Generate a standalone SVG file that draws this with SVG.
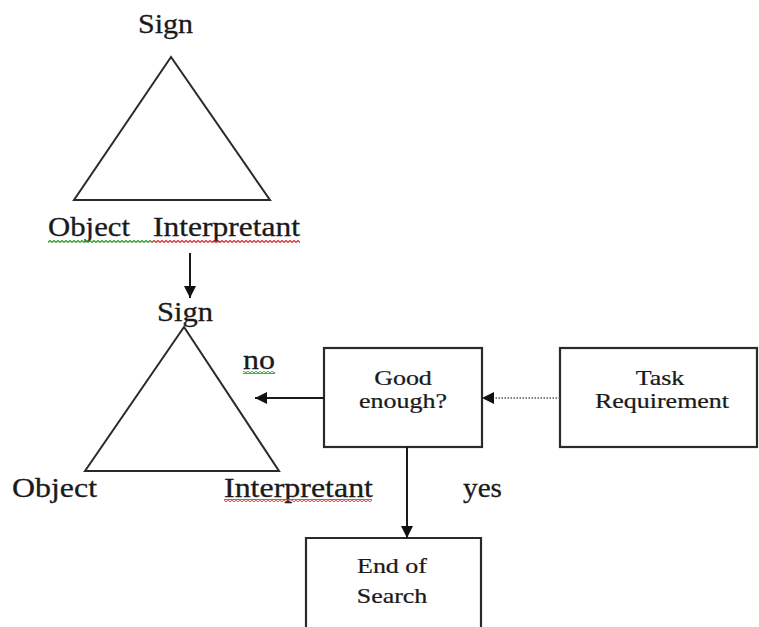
<svg xmlns="http://www.w3.org/2000/svg" width="759" height="627" viewBox="0 0 759 627">
<defs>
<style>
.shape{fill:none;stroke:#2a2a2a;stroke-width:2}
.box{fill:#ffffff;stroke:#2a2a2a;stroke-width:2.2}
.lbl{font-family:"Liberation Serif","Times New Roman",serif;font-size:28px;fill:#1a1a1a;stroke:#1a1a1a;stroke-width:0.3}
.bt{font-family:"Liberation Serif","Times New Roman",serif;font-size:22px;fill:#1a1a1a;stroke:#1a1a1a;stroke-width:0.25;text-anchor:middle}
.conn{fill:none;stroke:#1a1a1a;stroke-width:2}
.dot{fill:none;stroke:#555;stroke-width:1.3;stroke-dasharray:1.5 1.5}
</style>
<marker id="ah" markerWidth="12" markerHeight="12" viewBox="0 0 12 12" refX="12" refY="6" orient="auto" markerUnits="userSpaceOnUse">
<path d="M0,0 L12,6 L0,12 Z" fill="#111"/>
</marker>
<pattern id="wg" x="0" y="0" width="4" height="3" patternUnits="userSpaceOnUse"><polyline points="0,2.5 2,0.5 4,2.5" fill="none" stroke="#2e9e2e" stroke-width="1.3"/></pattern>
<pattern id="wr" x="0" y="0" width="4" height="3" patternUnits="userSpaceOnUse"><polyline points="0,2.5 2,0.5 4,2.5" fill="none" stroke="#d03a3a" stroke-width="1.3"/></pattern>
</defs>
<rect width="759" height="627" fill="#ffffff"/>

<g id="triangle1">
<polygon class="shape" points="171,57 74,200 270,200"/>
<text class="lbl" x="138" y="33" textLength="55" lengthAdjust="spacingAndGlyphs">Sign</text>
<text class="lbl" x="48" y="236" textLength="82" lengthAdjust="spacingAndGlyphs">Object</text>
<text class="lbl" x="153" y="236" textLength="147" lengthAdjust="spacingAndGlyphs">Interpretant</text>
<rect x="48" y="240" width="104" height="3" fill="url(#wg)"/>
<rect x="152" y="240" width="148" height="3" fill="url(#wr)"/>
</g>

<g id="triangle2">
<polygon class="shape" points="184,327 85,471 279,471"/>
<text class="lbl" x="157" y="321" textLength="56" lengthAdjust="spacingAndGlyphs">Sign</text>
<text class="lbl" x="12" y="497" textLength="85" lengthAdjust="spacingAndGlyphs">Object</text>
<text class="lbl" x="224" y="497" textLength="149" lengthAdjust="spacingAndGlyphs">Interpretant</text>
<rect x="224" y="499" width="148" height="3" fill="url(#wr)"/>
</g>

<g id="label-no">
<text class="lbl" x="243" y="369" textLength="32" lengthAdjust="spacingAndGlyphs">no</text>
<rect x="243" y="371" width="32" height="3" fill="url(#wg)"/>
</g>

<g id="label-yes">
<text class="lbl" x="463" y="497" textLength="39" lengthAdjust="spacingAndGlyphs">yes</text>
</g>

<g id="good-enough">
<rect class="box" x="324" y="348" width="158" height="99"/>
<text class="bt" transform="translate(403,385) scale(1.18,1)">Good</text>
<text class="bt" transform="translate(403,408) scale(1.18,1)">enough?</text>
</g>

<g id="task-requirement">
<rect class="box" x="560" y="348" width="197" height="99"/>
<text class="bt" transform="translate(660,385) scale(1.18,1)">Task</text>
<text class="bt" transform="translate(662,408) scale(1.18,1)">Requirement</text>
</g>

<g id="end-of-search">
<path class="box" d="M306,640 L306,538 L481,538 L481,640"/>
<text class="bt" transform="translate(392,573) scale(1.18,1)">End of</text>
<text class="bt" transform="translate(392,603) scale(1.18,1)">Search</text>
</g>

<g id="connectors">
<line class="conn" x1="190" y1="253" x2="190" y2="298" marker-end="url(#ah)"/>
<line class="conn" x1="324" y1="398" x2="255" y2="398" marker-end="url(#ah)"/>
<line class="dot" x1="560" y1="398" x2="494" y2="398"/>
<path d="M482,398 L494,392 L494,404 Z" fill="#111"/>
<line class="conn" x1="407" y1="447" x2="407" y2="538" marker-end="url(#ah)"/>
</g>
</svg>
